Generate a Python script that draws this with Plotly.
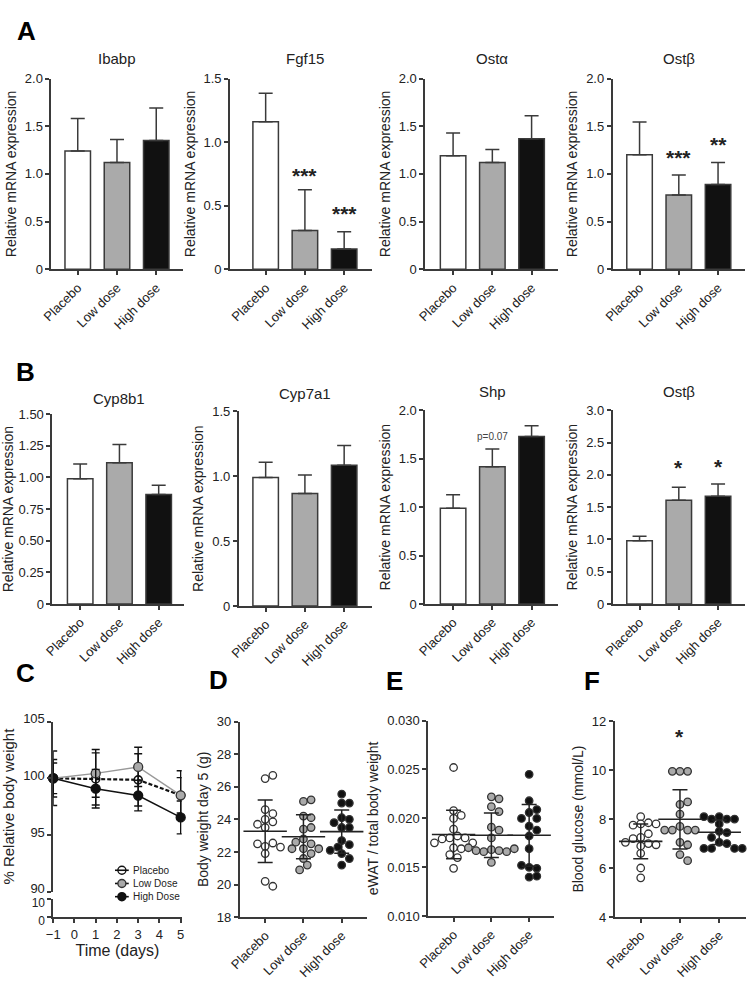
import plotly.graph_objects as go

W, H = 750, 985
FONT = "Arial, 'Liberation Sans', sans-serif"
INK = "#222222"
AXC = "#3a3a3a"

groups = ["Placebo", "Low dose", "High dose"]
fills = ["#ffffff", "#aaaaaa", "#111111"]

# ---------- Panel A (ileum) : mean and SEM ----------
ibabp = [1.24, 1.12, 1.35]
ibabp_sem = [0.34, 0.24, 0.34]
fgf15 = [1.16, 0.305, 0.16]
fgf15_sem = [0.225, 0.32, 0.135]
osta = [1.19, 1.12, 1.37]
osta_sem = [0.24, 0.135, 0.24]
ostb_a = [1.20, 0.78, 0.89]
ostb_a_sem = [0.345, 0.21, 0.23]

# ---------- Panel B (liver) ----------
cyp8b1 = [0.99, 1.116, 0.866]
cyp8b1_sem = [0.116, 0.144, 0.072]
cyp7a1 = [0.99, 0.867, 1.085]
cyp7a1_sem = [0.118, 0.143, 0.151]
shp = [0.99, 1.417, 1.73]
shp_sem = [0.137, 0.183, 0.11]
ostb_b = [0.98, 1.606, 1.67]
ostb_b_sem = [0.07, 0.204, 0.19]

# significance labels and their heights
fgf15_sig = ["", "***", "***"];   fgf15_sig_y = [0, 0.77, 0.47]
ostb_a_sig = ["", "***", "**"];   ostb_a_sig_y = [0, 1.21, 1.35]
shp_sig = ["", "p=0.07", "**"];   shp_sig_y = [0, 1.73, 2.02]
ostb_b_sig = ["", "*", "*"];      ostb_b_sig_y = [0, 2.17, 2.19]

# ---------- Panel C (body weight time course) ----------
days = [-1, 1, 3, 5]
bw_placebo = [100.0, 99.94, 99.86, 98.5]
bw_placebo_sd = [2.4, 2.3, 2.3, 1.56]
bw_low = [100.0, 100.43, 101.0, 98.5]
bw_low_sd = [1.35, 2.1, 1.73, 2.16]
bw_high = [100.0, 99.08, 98.48, 96.55]
bw_high_sd = [1.65, 1.7, 1.35, 1.45]
c_legend = ["Placebo", "Low Dose", "High Dose"]

# ---------- Panel D (body weight day 5) ----------
bw5_placebo = [26.5, 26.7, 24.6, 24.35, 24.0, 23.85, 23.7, 23.5, 22.35, 22.55, 22.5, 22.3, 21.9, 20.2, 19.9]
bw5_low = [25.1, 25.2, 24.2, 24.1, 23.4, 23.5, 22.8, 22.5, 22.6, 22.2, 22.2, 22.2, 21.9, 21.6, 21.2, 20.9]
bw5_high = [25.55, 25.0, 25.0, 24.1, 24.0, 23.8, 23.5, 23.5, 22.7, 22.45, 22.3, 22.1, 21.9, 21.6, 21.2]
bw5_mean = [23.27, 22.93, 23.25]
bw5_sd = [1.91, 1.35, 1.33]

# ---------- Panel E (eWAT / body weight) ----------
ewat_placebo = [0.0252, 0.0208, 0.0203, 0.0200, 0.0189, 0.0182, 0.0180, 0.0180, 0.0179, 0.0175, 0.0175,
                0.0170, 0.0169, 0.0163, 0.0160, 0.0149]
ewat_low = [0.0222, 0.0220, 0.0212, 0.0207, 0.0191, 0.0188, 0.0180, 0.0168, 0.0167, 0.0166, 0.0166,
            0.0167, 0.0169, 0.0170, 0.0155]
ewat_high = [0.0245, 0.0218, 0.0206, 0.0209, 0.0200, 0.0200, 0.0192, 0.0188, 0.0182, 0.0169, 0.0150,
             0.0149, 0.0152, 0.0140, 0.0141]
ewat_mean = [0.01835, 0.01827, 0.01827]
ewat_sd = [0.00248, 0.00227, 0.00316]

# ---------- Panel F (blood glucose) ----------
glu_placebo = [8.1, 7.85, 7.8, 7.75, 7.8, 7.25, 7.4, 7.2, 7.0, 6.9, 6.95, 7.05, 6.6, 6.0, 5.6]
glu_low = [9.95, 9.95, 9.95, 8.6, 8.7, 8.2, 7.7, 7.55, 7.55, 7.55, 7.55, 7.05, 6.95, 6.55, 6.3]
glu_high = [8.1, 8.0, 8.0, 8.0, 8.1, 7.8, 7.5, 7.45, 7.25, 7.05, 7.0, 6.8, 6.8, 6.8, 6.8]
glu_mean = [7.09, 7.99, 7.46]
glu_sd = [0.71, 1.21, 0.5]
glu_sig = ["", "*", ""]; glu_sig_y = [0, 11.55, 0]

fig = go.Figure()
layout = {}
annotations = []
shapes = []


def nm(i):
    return "" if i == 1 else str(i)


def px_x(p):
    return p / W


def px_y(p):
    return 1 - p / H


def base_axis():
    return dict(showline=True, linecolor=AXC, linewidth=1.5, ticks="outside", ticklen=4,
                tickwidth=1.5, tickcolor=AXC, showgrid=False, zeroline=False,
                tickfont=dict(size=13, color=INK, family=FONT))


def cat_xaxis(i, box, spacing):
    xL, xR, yT, yB, c0 = box
    ax = base_axis()
    ax.update(domain=[px_x(xL), px_x(xR)], range=[(xL - c0) / spacing, (xR - c0) / spacing],
              anchor="y" + nm(i), tickvals=[0, 1, 2], ticktext=groups, tickangle=-45)
    layout["xaxis" + nm(i)] = ax


def val_yaxis(i, box, rng, tv, tt, title, tsize=14):
    xL, xR, yT, yB, c0 = box
    ax = base_axis()
    ax.update(domain=[px_y(yB), px_y(yT)], range=rng, anchor="x" + nm(i), tickvals=tv, ticktext=tt,
              title=dict(text=title, font=dict(size=tsize, color=INK, family=FONT), standoff=5))
    layout["yaxis" + nm(i)] = ax


def add_sig(i, sig, sig_y):
    for k, (s, yv) in enumerate(zip(sig, sig_y)):
        if not s:
            continue
        small = s.startswith("p")
        annotations.append(dict(text=s if small else f"<b>{s}</b>", x=k, xref="x" + nm(i), y=yv,
                                yref="y" + nm(i), showarrow=False, yshift=0 if small else -4,
                                font=dict(size=10 if small else 21, color="#444" if small else INK,
                                          family=FONT)))


def bar_panel(i, means, sems, box, rng, tv, tt, title, title_y, sig=None, sig_y=None):
    fig.add_trace(go.Bar(x=[0, 1, 2], y=means, width=0.65,
                         marker=dict(color=fills, line=dict(color=AXC, width=1.5)),
                         error_y=dict(type="data", symmetric=False, array=sems, arrayminus=[0, 0, 0],
                                      color=AXC, thickness=1.5, width=7),
                         xaxis="x" + nm(i), yaxis="y" + nm(i), showlegend=False, hoverinfo="skip"))
    cat_xaxis(i, box, 40)
    val_yaxis(i, box, rng, tv, tt, "Relative mRNA expression")
    annotations.append(dict(text=title, x=1, xref="x" + nm(i), y=px_y(title_y), yref="paper",
                            showarrow=False, font=dict(size=15, color=INK, family=FONT),
                            xanchor="center", yanchor="middle"))
    if sig:
        add_sig(i, sig, sig_y)


def fmt(vals, nd):
    return ["0" if v == 0 else f"{v:.{nd}f}" for v in vals]


t_2 = [0, 0.5, 1.0, 1.5, 2.0]
t_15 = [0, 0.5, 1.0, 1.5]
t_cyp8 = [0, 0.25, 0.5, 0.75, 1.0, 1.25, 1.5]
t_3 = [0, 0.5, 1.0, 1.5, 2.0, 2.5, 3.0]

# boxes: left, right, top, bottom (px), first-bar centre (px)
bar_panel(1, ibabp, ibabp_sem, (41, 175, 70, 265, 68), [0, 2], t_2, fmt(t_2, 1), "Ibabp", 50)
bar_panel(2, fgf15, fgf15_sem, (223, 368, 70, 265, 259.5), [0, 1.5], t_15, fmt(t_15, 1), "Fgf15", 50,
          fgf15_sig, fgf15_sig_y)
bar_panel(3, osta, osta_sem, (422, 557, 70, 265, 450.5), [0, 2], t_2, fmt(t_2, 1), "Ostα", 50)
bar_panel(4, ostb_a, ostb_a_sem, (613, 748, 70, 265, 640.5), [0, 2], t_2, fmt(t_2, 1), "Ostβ", 50,
          ostb_a_sig, ostb_a_sig_y)
bar_panel(5, cyp8b1, cyp8b1_sem, (42, 176, 413, 607, 70.5), [0, 1.5], t_cyp8, fmt(t_cyp8, 2), "Cyp8b1", 397)
bar_panel(6, cyp7a1, cyp7a1_sem, (232, 368, 410, 609, 259.5), [0, 1.5], t_15, fmt(t_15, 1), "Cyp7a1", 392)
bar_panel(7, shp, shp_sem, (422, 557, 409, 607, 450.5), [0, 2], t_2, fmt(t_2, 1), "Shp", 390,
          shp_sig, shp_sig_y)
bar_panel(8, ostb_b, ostb_b_sem, (613, 748, 409, 607, 640.5), [0, 3], t_3, fmt(t_3, 1), "Ostβ", 390,
          ostb_b_sig, ostb_b_sig_y)

# ---------- Panel C ----------
cxL, cxR = 43, 174
ax = base_axis()
ax.update(domain=[px_x(cxL), px_x(cxR)], range=[-1, 5.05], anchor="y9", visible=False)
layout["xaxis9"] = ax
ax = base_axis()
ax.update(domain=[px_x(cxL), px_x(cxR)], range=[-1, 5.05], anchor="y10", tickvals=list(range(-1, 6)),
          title=dict(text="Time (days)", font=dict(size=16, color=INK, family=FONT), standoff=2))
layout["xaxis10"] = ax
ax = base_axis()
ax.update(domain=[px_y(901), px_y(727)], range=[90, 105], anchor="x9", tickvals=[90, 95, 100, 105],
          ticklabelshift=-3,
          title=dict(text="% Relative body weight", font=dict(size=15, color=INK, family=FONT), standoff=5))
layout["yaxis9"] = ax
ax = base_axis()
ax.update(domain=[px_y(927), px_y(908)], range=[0, 10], anchor="x10", tickvals=[0, 10],
          tickfont=dict(size=12, color=INK, family=FONT), ticklabelshift=4)
layout["yaxis10"] = ax
fig.add_trace(go.Scatter(x=[], y=[], xaxis="x10", yaxis="y10", showlegend=False))

c_styles = [
    (dict(color="#111", width=2.2, dash="4px,2px"),
     dict(symbol="circle-open", size=8, color="#111", line=dict(width=1.6, color="#111")), "#ffffff"),
    (dict(color="#999", width=1.5),
     dict(symbol="circle", size=9, color="#aaaaaa", line=dict(width=1.3, color="#333")), "#aaaaaa"),
    (dict(color="#111", width=1.5),
     dict(symbol="circle", size=9, color="#111", line=dict(width=1.3, color="#111")), "#111111"),
]
for name, ys, sd, (ln, mk, _) in zip(c_legend, [bw_placebo, bw_low, bw_high],
                                      [bw_placebo_sd, bw_low_sd, bw_high_sd], c_styles):
    fig.add_trace(go.Scatter(x=days, y=ys, name=name, mode="lines+markers", line=ln, marker=mk,
                             error_y=dict(type="data", array=sd, color="#111", thickness=1.4, width=4),
                             xaxis="x9", yaxis="y9", cliponaxis=False, hoverinfo="skip",
                             showlegend=False))

# compact legend for panel C (glyph + label)
for k, (name, (ln, mk, fc)) in enumerate(zip(c_legend, c_styles)):
    ly = px_y(879 + 13.5 * k)
    shapes.append(dict(type="line", xref="paper", yref="paper", x0=px_x(106), x1=px_x(120), y0=ly, y1=ly,
                       line=dict(color="#111", width=1.6)))
    shapes.append(dict(type="circle", xref="paper", yref="paper", xsizemode="pixel", ysizemode="pixel",
                       xanchor=px_x(113), yanchor=ly, x0=-4, x1=4, y0=-4, y1=4,
                       fillcolor=fc if k else "rgba(0,0,0,0)",
                       line=dict(color="#111" if k != 1 else "#333", width=1.4)))
    annotations.append(dict(text=name, x=px_x(122), y=ly, xref="paper", yref="paper", xanchor="left",
                            yanchor="middle", showarrow=False, font=dict(size=10, color=INK, family=FONT)))


# ---------- Scatter panels D, E, F ----------
def swarm(vals, ppu_y, ppu_x, d=7.8):
    placed, offs = [], []
    cands = [0.0]
    for j in range(1, 20):
        cands += [j * d * 0.5, -j * d * 0.5]
    for v in vals:
        y = v * ppu_y
        chosen = cands[-1]
        for c in cands:
            if all((c - p) ** 2 + (y - q) ** 2 >= d * d * 0.9 for p, q in placed):
                chosen = c
                break
        placed.append((chosen, y))
        offs.append(chosen / ppu_x)
    return offs


def dot_panel(i, series, mean, sd, box, spacing, rng, tv, tt, title, sig=None, sig_y=None):
    xL, xR, yT, yB, c0 = box
    ppu_y = (yB - yT) / (rng[1] - rng[0])
    for k, vals in enumerate(series):
        offs = swarm(vals, ppu_y, spacing)
        fig.add_trace(go.Scatter(x=[k + o for o in offs], y=vals, mode="markers",
                                 marker=dict(size=7.5, color=fills[k], line=dict(width=1.3, color="#333")),
                                 xaxis="x" + nm(i), yaxis="y" + nm(i), showlegend=False,
                                 cliponaxis=False, hoverinfo="skip"))
    fig.add_trace(go.Scatter(x=[0, 1, 2], y=mean, mode="markers",
                             marker=dict(symbol="line-ew-open", size=31, color=INK,
                                         line=dict(width=1.6, color=INK)),
                             error_y=dict(type="data", array=sd, color=INK, thickness=1.5, width=7.5),
                             xaxis="x" + nm(i), yaxis="y" + nm(i), showlegend=False, hoverinfo="skip"))
    cat_xaxis(i, box, spacing)
    val_yaxis(i, box, rng, tv, tt, title)
    if sig:
        add_sig(i, sig, sig_y)


t_d = [18, 20, 22, 24, 26, 28, 30]
dot_panel(11, [bw5_placebo, bw5_low, bw5_high], bw5_mean, bw5_sd, (233, 363, 727, 927, 259), 39,
          [18, 30], t_d, [str(v) for v in t_d], "Body weight day 5 (g)")
t_e = [0.010, 0.015, 0.020, 0.025, 0.030]
dot_panel(12, [ewat_placebo, ewat_low, ewat_high], ewat_mean, ewat_sd, (425, 553, 726, 926, 451), 38.5,
          [0.010, 0.030], t_e, [f"{v:.3f}" for v in t_e], "eWAT / total body weight")
t_f = [4, 6, 8, 10, 12]
dot_panel(13, [glu_placebo, glu_low, glu_high], glu_mean, glu_sd, (615, 749, 726.7, 926.7, 641.7), 40,
          [4, 12], t_f, [str(v) for v in t_f], "Blood glucose (mmol/L)", glu_sig, glu_sig_y)

# ---------- panel letters ----------
for letter, lx, ly in [("A", 4, 21), ("B", 3, 370), ("C", 3, 677), ("D", 200, 685), ("E", 380, 686),
                       ("F", 582, 686)]:
    annotations.append(dict(text=f"<b>{letter}</b>", x=px_x(lx), y=px_y(ly), xref="paper", yref="paper",
                            xanchor="left", yanchor="middle", showarrow=False,
                            font=dict(size=26, color="#000", family=FONT)))

fig.update_layout(**layout)
fig.update_layout(
    width=W, height=H, margin=dict(l=0, r=0, t=0, b=0),
    paper_bgcolor="white", plot_bgcolor="white",
    font=dict(family=FONT, color=INK, size=13),
    annotations=annotations, shapes=shapes,
    showlegend=False,
)

fig.write_html("out.html", config={"displayModeBar": False},
               post_script="document.body.style.margin='0';document.body.style.overflow='hidden';")
